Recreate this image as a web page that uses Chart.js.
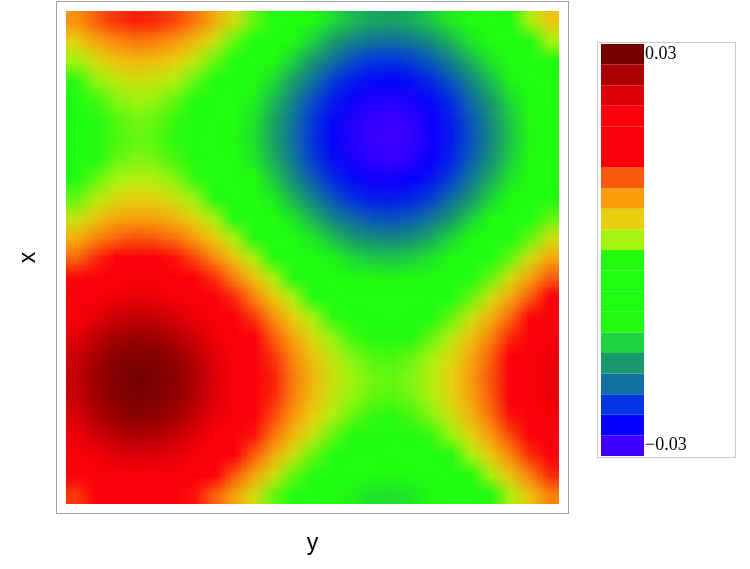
<!DOCTYPE html>
<html>
<head>
<meta charset="utf-8">
<script src="https://cdn.jsdelivr.net/npm/chart.js@4.4.1/dist/chart.umd.min.js"></script>
<style>
  html, body { margin: 0; padding: 0; background: #fff; }
  #page { position: relative; width: 750px; height: 569px; overflow: hidden; }
  #heat { position: absolute; left: 66px; top: 11px; }
  #frame { position: absolute; left: 0; top: 0; }
  #legendBox { position: absolute; left: 597px; top: 42px; width: 139px; height: 416px;
               border: 1px solid #c8c8c8; box-sizing: border-box; background: #fff; }
  #legend { position: absolute; left: 0; top: 0; }
</style>
</head>
<body>
<div id="page">
  <canvas id="heat" width="25" height="25" style="width:493px;height:493px"></canvas>
  <canvas id="frame" width="750" height="569"></canvas>
  <div id="legendBox"><canvas id="legend" width="137" height="414"></canvas></div>
</div>
<script>
// density values, in units of 10^-3, top row first, left column first
const densityE3 = [
  [8.4, 10.8, 12.4, 13.1, 12.8, 11.7, 9.7, 6.9, 3.6, 0, -3.8, -7.4, -10.7, -13.5, -15.5, -16.6, -16.9, -16.2, -14.6, -12.2, -9.1, -5.6, -1.9, 1.8, 5.3],
  [4.8, 7.2, 8.8, 9.5, 9.2, 8.1, 6.1, 3.3, 0, -3.6, -7.4, -11, -14.3, -17.1, -19.1, -20.2, -20.5, -19.8, -18.2, -15.8, -12.7, -9.2, -5.5, -1.8, 1.7],
  [1.5, 3.9, 5.5, 6.2, 5.9, 4.8, 2.8, 0, -3.3, -6.9, -10.7, -14.3, -17.6, -20.4, -22.4, -23.5, -23.8, -23.1, -21.5, -19.1, -16, -12.5, -8.8, -5.1, -1.6],
  [-1.3, 1.1, 2.7, 3.4, 3.1, 2, 0, -2.8, -6.1, -9.7, -13.5, -17.1, -20.4, -23.2, -25.2, -26.3, -26.6, -25.9, -24.3, -21.9, -18.8, -15.3, -11.6, -7.9, -4.4],
  [-3.3, -0.9, 0.7, 1.4, 1.1, 0, -2, -4.8, -8.1, -11.7, -15.5, -19.1, -22.4, -25.2, -27.2, -28.3, -28.6, -27.9, -26.3, -23.9, -20.8, -17.3, -13.6, -9.9, -6.4],
  [-4.4, -2, -0.4, 0.3, 0, -1.1, -3.1, -5.9, -9.2, -12.8, -16.6, -20.2, -23.5, -26.3, -28.3, -29.4, -29.7, -29, -27.4, -25, -21.9, -18.4, -14.7, -11, -7.5],
  [-4.7, -2.3, -0.7, 0, -0.3, -1.4, -3.4, -6.2, -9.5, -13.1, -16.9, -20.5, -23.8, -26.6, -28.6, -29.7, -30, -29.3, -27.7, -25.3, -22.2, -18.7, -15, -11.3, -7.8],
  [-4, -1.6, 0, 0.7, 0.4, -0.7, -2.7, -5.5, -8.8, -12.4, -16.2, -19.8, -23.1, -25.9, -27.9, -29, -29.3, -28.6, -27, -24.6, -21.5, -18, -14.3, -10.6, -7.1],
  [-2.4, 0, 1.6, 2.3, 2, 0.9, -1.1, -3.9, -7.2, -10.8, -14.6, -18.2, -21.5, -24.3, -26.3, -27.4, -27.7, -27, -25.4, -23, -19.9, -16.4, -12.7, -9, -5.5],
  [0, 2.4, 4, 4.7, 4.4, 3.3, 1.3, -1.5, -4.8, -8.4, -12.2, -15.8, -19.1, -21.9, -23.9, -25, -25.3, -24.6, -23, -20.6, -17.5, -14, -10.3, -6.6, -3.1],
  [3.1, 5.5, 7.1, 7.8, 7.5, 6.4, 4.4, 1.6, -1.7, -5.3, -9.1, -12.7, -16, -18.8, -20.8, -21.9, -22.2, -21.5, -19.9, -17.5, -14.4, -10.9, -7.2, -3.5, 0],
  [6.6, 9, 10.6, 11.3, 11, 9.9, 7.9, 5.1, 1.8, -1.8, -5.6, -9.2, -12.5, -15.3, -17.3, -18.4, -18.7, -18, -16.4, -14, -10.9, -7.4, -3.7, 0, 3.5],
  [10.3, 12.7, 14.3, 15, 14.7, 13.6, 11.6, 8.8, 5.5, 1.9, -1.9, -5.5, -8.8, -11.6, -13.6, -14.7, -15, -14.3, -12.7, -10.3, -7.2, -3.7, 0, 3.7, 7.2],
  [14, 16.4, 18, 18.7, 18.4, 17.3, 15.3, 12.5, 9.2, 5.6, 1.8, -1.8, -5.1, -7.9, -9.9, -11, -11.3, -10.6, -9, -6.6, -3.5, 0, 3.7, 7.4, 10.9],
  [17.5, 19.9, 21.5, 22.2, 21.9, 20.8, 18.8, 16, 12.7, 9.1, 5.3, 1.7, -1.6, -4.4, -6.4, -7.5, -7.8, -7.1, -5.5, -3.1, 0, 3.5, 7.2, 10.9, 14.4],
  [20.6, 23, 24.6, 25.3, 25, 23.9, 21.9, 19.1, 15.8, 12.2, 8.4, 4.8, 1.5, -1.3, -3.3, -4.4, -4.7, -4, -2.4, 0, 3.1, 6.6, 10.3, 14, 17.5],
  [23, 25.4, 27, 27.7, 27.4, 26.3, 24.3, 21.5, 18.2, 14.6, 10.8, 7.2, 3.9, 1.1, -0.9, -2, -2.3, -1.6, 0, 2.4, 5.5, 9, 12.7, 16.4, 19.9],
  [24.6, 27, 28.6, 29.3, 29, 27.9, 25.9, 23.1, 19.8, 16.2, 12.4, 8.8, 5.5, 2.7, 0.7, -0.4, -0.7, 0, 1.6, 4, 7.1, 10.6, 14.3, 18, 21.5],
  [25.3, 27.7, 29.3, 30, 29.7, 28.6, 26.6, 23.8, 20.5, 16.9, 13.1, 9.5, 6.2, 3.4, 1.4, 0.3, 0, 0.7, 2.3, 4.7, 7.8, 11.3, 15, 18.7, 22.2],
  [25, 27.4, 29, 29.7, 29.4, 28.3, 26.3, 23.5, 20.2, 16.6, 12.8, 9.2, 5.9, 3.1, 1.1, 0, -0.3, 0.4, 2, 4.4, 7.5, 11, 14.7, 18.4, 21.9],
  [23.9, 26.3, 27.9, 28.6, 28.3, 27.2, 25.2, 22.4, 19.1, 15.5, 11.7, 8.1, 4.8, 2, 0, -1.1, -1.4, -0.7, 0.9, 3.3, 6.4, 9.9, 13.6, 17.3, 20.8],
  [21.9, 24.3, 25.9, 26.6, 26.3, 25.2, 23.2, 20.4, 17.1, 13.5, 9.7, 6.1, 2.8, 0, -2, -3.1, -3.4, -2.7, -1.1, 1.3, 4.4, 7.9, 11.6, 15.3, 18.8],
  [19.1, 21.5, 23.1, 23.8, 23.5, 22.4, 20.4, 17.6, 14.3, 10.7, 6.9, 3.3, 0, -2.8, -4.8, -5.9, -6.2, -5.5, -3.9, -1.5, 1.6, 5.1, 8.8, 12.5, 16],
  [15.8, 18.2, 19.8, 20.5, 20.2, 19.1, 17.1, 14.3, 11, 7.4, 3.6, 0, -3.3, -6.1, -8.1, -9.2, -9.5, -8.8, -7.2, -4.8, -1.7, 1.8, 5.5, 9.2, 12.7],
  [12.2, 14.6, 16.2, 16.9, 16.6, 15.5, 13.5, 10.7, 7.4, 3.8, 0, -3.6, -6.9, -9.7, -11.7, -12.8, -13.1, -12.4, -10.8, -8.4, -5.3, -1.8, 1.9, 5.6, 9.1]
];

// legend bands, top (0.03) to bottom (-0.03)
const colorbarColors = [
  '#750000', '#aa0000', '#dc0008', '#fa000a', '#fa000a', '#fa000a', '#fa5a0c',
  '#fa9c0c', '#e8d010', '#a6f410', '#22fa10', '#1eff10', '#1eff10', '#22fa10',
  '#1ed240', '#18986c', '#1070a0', '#0434e0', '#0400fc', '#4000ff'
];
const colorbarMax = 30;
const colorbarMin = -30;
const colorbarTickValues = [30, -30];
const colorbarTickLabels = ['0.03', '\u22120.03'];
const axisTitleLeft = 'x';
const axisTitleBottom = 'y';

const colorbarStep = (colorbarMax - colorbarMin) / (colorbarColors.length - 1);

function hexToRgb(h) {
  return [parseInt(h.slice(1, 3), 16), parseInt(h.slice(3, 5), 16), parseInt(h.slice(5, 7), 16)];
}
const bandRgb = colorbarColors.map(hexToRgb);

function colorFor(v) {
  let p = (colorbarMax - v) / colorbarStep;
  p = Math.max(0, Math.min(colorbarColors.length - 1, p));
  const i = Math.min(Math.floor(p), colorbarColors.length - 2);
  const f = p - i;
  const a = bandRgb[i], b = bandRgb[i + 1];
  const c = a.map((x, k) => Math.round(x + (b[k] - x) * f));
  return 'rgb(' + c.join(',') + ')';
}

// density cells, drawn small and scaled up by the page for a smooth look
new Chart(document.getElementById('heat'), {
  type: 'bar',
  data: {
    labels: densityE3[0].map((_, i) => i),
    datasets: densityE3.map((row, j) => ({
      data: row.map(() => [j, j + 1]),
      backgroundColor: row.map(colorFor),
      borderWidth: 0,
      inflateAmount: 0,
      barPercentage: 1,
      categoryPercentage: 1,
      grouped: false
    }))
  },
  options: {
    responsive: false,
    devicePixelRatio: 1,
    animation: false,
    events: [],
    layout: { padding: 0 },
    plugins: { legend: { display: false }, tooltip: { enabled: false } },
    scales: {
      x: { display: false },
      y: { display: false, min: 0, max: densityE3.length, reverse: true }
    }
  }
});

const framePlugin = {
  id: 'frame',
  afterDraw(chart) {
    const ca = chart.chartArea;
    const ctx = chart.ctx;
    ctx.save();
    ctx.strokeStyle = '#a0a0a0';
    ctx.lineWidth = 1;
    ctx.strokeRect(ca.left - 9.5, ca.top - 9.5, ca.right - ca.left + 19, ca.bottom - ca.top + 19);
    ctx.restore();
  }
};

new Chart(document.getElementById('frame'), {
  type: 'scatter',
  data: { datasets: [] },
  options: {
    responsive: false,
    devicePixelRatio: 1,
    animation: false,
    events: [],
    layout: { padding: { top: 11, right: 191, left: 0, bottom: 0 } },
    plugins: { legend: { display: false }, tooltip: { enabled: false } },
    scales: {
      x: {
        min: 0, max: 1,
        ticks: { display: false },
        grid: { display: false },
        border: { display: false },
        afterFit: (s) => { s.height = 65; },
        title: { display: true, text: axisTitleBottom, color: '#000',
                 font: { family: 'Liberation Sans', size: 23 }, padding: { top: 0, bottom: 12 } }
      },
      y: {
        min: 0, max: 1,
        ticks: { display: false },
        grid: { display: false },
        border: { display: false },
        afterFit: (s) => { s.width = 66; },
        title: { display: true, text: axisTitleLeft, color: '#000',
                 font: { family: 'Liberation Sans', size: 23 }, padding: { top: 15, bottom: 0 } }
      }
    }
  },
  plugins: [framePlugin]
});

// colour legend
new Chart(document.getElementById('legend'), {
  type: 'bar',
  data: {
    labels: [''],
    datasets: colorbarColors.map((c, k) => ({
      data: [[colorbarMax - (k + 0.5) * colorbarStep, colorbarMax - (k - 0.5) * colorbarStep]],
      backgroundColor: c,
      borderWidth: 0,
      inflateAmount: 0,
      barPercentage: 1,
      categoryPercentage: 1,
      grouped: false
    }))
  },
  options: {
    responsive: false,
    devicePixelRatio: 1,
    animation: false,
    events: [],
    layout: { padding: { left: 3, top: 1, bottom: 1, right: 0 } },
    plugins: { legend: { display: false }, tooltip: { enabled: false } },
    scales: {
      x: { display: false },
      y: {
        position: 'right',
        min: colorbarMin - colorbarStep / 2,
        max: colorbarMax + colorbarStep / 2,
        grid: { display: false, drawTicks: false },
        border: { display: false },
        afterBuildTicks: (axis) => { axis.ticks = colorbarTickValues.map(v => ({ value: v })); },
        afterFit: (axis) => {
          axis.width = 91;
          axis.paddingTop = 0;
          axis.paddingBottom = 0;
        },
        ticks: {
          autoSkip: false,
          padding: 1,
          color: '#000',
          font: { family: 'Liberation Serif', size: 18 },
          callback: (v) => colorbarTickLabels[colorbarTickValues.indexOf(v)]
        }
      }
    }
  }
});
</script>
</body>
</html>
